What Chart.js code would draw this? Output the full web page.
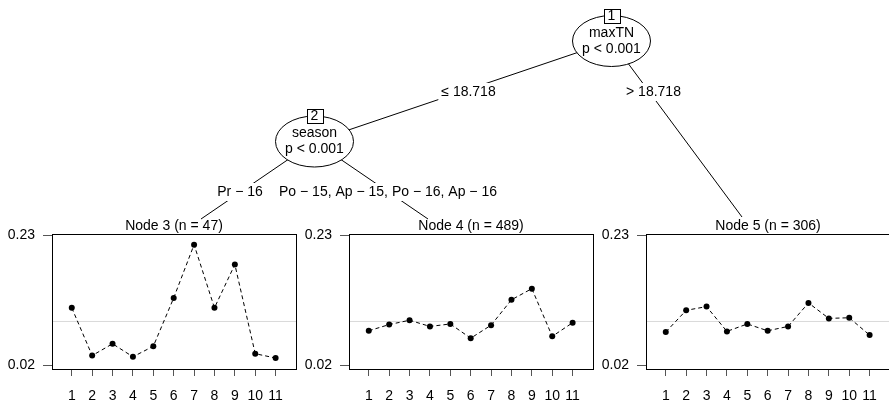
<!DOCTYPE html>
<html>
<head>
<meta charset="utf-8">
<script src="https://cdn.jsdelivr.net/npm/chart.js@4.4.0/dist/chart.umd.min.js"></script>
<style>
  body { margin: 0; background: #fff; overflow: hidden; width: 889px; height: 402px; position: relative; }
  canvas { position: absolute; }
</style>
</head>
<body>
<canvas id="tree" width="889" height="402" style="left:0;top:0"></canvas>
<canvas id="node3" width="300" height="187" style="left:0;top:215px"></canvas>
<canvas id="node4" width="300" height="187" style="left:297px;top:215px"></canvas>
<canvas id="node5" width="300" height="187" style="left:594px;top:215px"></canvas>
<script>
// values (x = 1..11)
var positions = [1, 2, 3, 4, 5, 6, 7, 8, 9, 10, 11];
var yTicks = [0.02, 0.23];
var node3Values = [0.113, 0.036, 0.055, 0.034, 0.051, 0.129, 0.215, 0.113, 0.183, 0.039, 0.032];
var node4Values = [0.076, 0.086, 0.093, 0.083, 0.087, 0.064, 0.085, 0.126, 0.144, 0.067, 0.089];
var node5Values = [0.074, 0.109, 0.115, 0.075, 0.087, 0.076, 0.083, 0.121, 0.096, 0.097, 0.069];
var overallMean = 0.091;
var nodeTitles = ["Node 3 (n = 47)", "Node 4 (n = 489)", "Node 5 (n = 306)"];

// tree text
var splitVars = ["maxTN", "season"];
var splitP = ["p < 0.001", "p < 0.001"];
var edgeLabels = ["\u2264 18.718", "> 18.718", "Pr \u2212 16", "Po \u2212 15, Ap \u2212 15, Po \u2212 16, Ap \u2212 16"];

var xMin = 0.03, xMax = 12.0;
var yMin = 0.0143, yMax = 0.2322;
var FONT = "Liberation Sans, Arial, Helvetica, sans-serif";

// draws the plot box and the node title
var boxPlugin = {
    id: 'box',
    afterDraw: function(chart) {
        var ctx = chart.ctx;
        var a = chart.chartArea;
        ctx.save();
        ctx.strokeStyle = '#000';
        ctx.lineWidth = 1;
        ctx.strokeRect(Math.round(a.left) + 0.5, Math.round(a.top) + 0.5,
            Math.round(a.right - a.left), Math.round(a.bottom - a.top));
        ctx.fillStyle = '#000';
        ctx.font = '14px ' + FONT;
        ctx.textAlign = 'center';
        ctx.textBaseline = 'middle';
        ctx.fillText(chart.options.plugins.nodeTitle, (a.left + a.right) / 2, a.top - 8);
        ctx.restore();
    }
};

function makePanel(id, title, values) {
    var pts = [];
    for (var i = 0; i < positions.length; i++) {
        pts.push({x: positions[i], y: values[i]});
    }
    return new Chart(document.getElementById(id), {
        type: 'line',
        data: {
            datasets: [
                {
                    data: pts,
                    borderColor: '#000',
                    borderWidth: 1,
                    borderDash: [4, 3],
                    pointRadius: 3,
                    pointBackgroundColor: '#000',
                    pointBorderWidth: 0,
                    tension: 0
                },
                {
                    data: [{x: xMin, y: overallMean}, {x: xMax, y: overallMean}],
                    borderColor: '#d9d9d9',
                    borderWidth: 1,
                    pointRadius: 0
                }
            ]
        },
        options: {
            responsive: false,
            animation: false,
            layout: { padding: { top: 19, right: 2, left: 0, bottom: 0 } },
            plugins: {
                legend: { display: false },
                tooltip: { enabled: false },
                nodeTitle: title
            },
            scales: {
                x: {
                    type: 'linear',
                    min: xMin,
                    max: xMax,
                    afterBuildTicks: function(s) { s.ticks = positions.map(function(v) { return {value: v}; }); },
                    afterFit: function(s) { s.height = 33; },
                    grid: { drawOnChartArea: false, tickLength: 7, color: '#555' },
                    border: { display: false },
                    ticks: {
                        color: '#000', font: { size: 14, family: FONT }, padding: 12,
                        autoSkip: false, maxRotation: 0,
                        callback: function(v) { return String(v); }
                    }
                },
                y: {
                    type: 'linear',
                    min: yMin,
                    max: yMax,
                    afterBuildTicks: function(s) { s.ticks = yTicks.map(function(v) { return {value: v}; }); },
                    afterFit: function(s) { s.width = 52; },
                    grid: { drawOnChartArea: false, tickLength: 9, color: '#555' },
                    border: { display: false },
                    ticks: {
                        color: '#000', font: { size: 14, family: FONT }, padding: 8,
                        callback: function(v) { return v.toFixed(2); }
                    }
                }
            }
        },
        plugins: [boxPlugin]
    });
}

makePanel('node3', nodeTitles[0], node3Values);
makePanel('node4', nodeTitles[1], node4Values);
makePanel('node5', nodeTitles[2], node5Values);

// tree layout (pixel positions of the inner nodes and edge ends)
var inner = [
    { id: 1, x: 611.5, y: 41 },
    { id: 2, x: 314.5, y: 141.5 }
];
var rx = 39, ry = 25.5;
var edges = [
    { x0: 611.5, y0: 41, x1: 314.5, y1: 141.5, lx: 468.5, ly: 92 },
    { x0: 611.5, y0: 41, x1: 742, y1: 217, lx: 653.5, ly: 92 },
    { x0: 314.5, y0: 141.5, x1: 201, y1: 219, lx: 240, ly: 192 },
    { x0: 314.5, y0: 141.5, x1: 428, y1: 219, lx: 388, ly: 192 }
];

var treePlugin = {
    id: 'tree',
    afterDraw: function(chart) {
        var ctx = chart.ctx;
        ctx.save();
        ctx.strokeStyle = '#000';
        ctx.lineWidth = 1;
        ctx.font = '14px ' + FONT;
        ctx.textAlign = 'center';
        ctx.textBaseline = 'middle';
        edges.forEach(function(e) {
            ctx.beginPath();
            ctx.moveTo(e.x0, e.y0);
            ctx.lineTo(e.x1, e.y1);
            ctx.stroke();
        });
        edges.forEach(function(e, i) {
            var w = ctx.measureText(edgeLabels[i]).width;
            ctx.fillStyle = '#fff';
            ctx.fillRect(e.lx - w / 2 - 3, e.ly - 9, w + 6, 18);
            ctx.fillStyle = '#000';
            ctx.fillText(edgeLabels[i], e.lx, e.ly);
        });
        inner.forEach(function(n, i) {
            ctx.beginPath();
            ctx.ellipse(n.x, n.y, rx, ry, 0, 0, Math.PI * 2);
            ctx.fillStyle = '#fff';
            ctx.fill();
            ctx.stroke();
            ctx.fillStyle = '#000';
            ctx.fillText(splitVars[i], n.x, n.y - 8);
            ctx.fillText(splitP[i], n.x, n.y + 8);
            // id box on top of the ellipse
            var bx = Math.round(n.x - 8) + 0.5, by = Math.round(n.y - ry - 7) + 0.5;
            ctx.fillStyle = '#fff';
            ctx.fillRect(bx, by, 16, 14);
            ctx.strokeRect(bx, by, 16, 14);
            ctx.fillStyle = '#000';
            ctx.fillText(String(n.id), n.x, n.y - ry + 0.5);
        });
        ctx.restore();
    }
};

new Chart(document.getElementById('tree'), {
    type: 'scatter',
    data: { datasets: [] },
    options: {
        responsive: false,
        animation: false,
        plugins: { legend: { display: false }, tooltip: { enabled: false } },
        scales: { x: { display: false }, y: { display: false } }
    },
    plugins: [treePlugin]
});
</script>
</body>
</html>
